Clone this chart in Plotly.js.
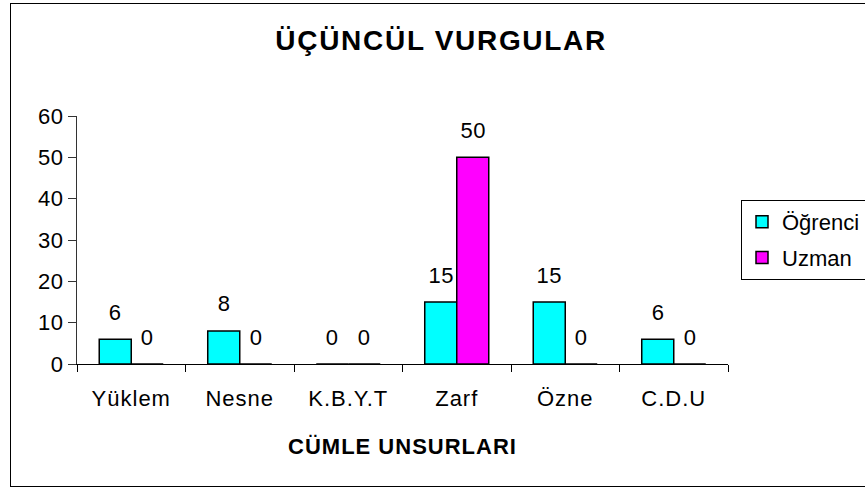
<!DOCTYPE html>
<html>
<head>
<meta charset="utf-8">
<script src="https://cdn.plot.ly/plotly-3.0.1.min.js"></script>
<style>
  html, body { margin: 0; padding: 0; background: #fff; }
  #chart { width: 865px; height: 487px; position: relative; }
  #frame { position: absolute; left: 10px; top: 3px; width: 860px; height: 482px;
           border: 1.5px solid #000; pointer-events: none; }
  #chart .gtitle { letter-spacing: 1.7px; }
  #chart .xtitle { letter-spacing: 1px; }
  #chart .xtick text { letter-spacing: 1px; }
  #chart .ytick text { letter-spacing: 0.5px; }
  #chart .annotation-text { letter-spacing: 0.5px; }
</style>
</head>
<body>
<div id="chart"></div>
<div id="frame"></div>
<script>
const categories = ["Yüklem", "Nesne", "K.B.Y.T", "Zarf", "Özne", "C.D.U"];
const ogrenci = [6, 8, 0, 15, 15, 6];
const uzman = [0, 0, 0, 50, 0, 0];
const seriesNames = ["Öğrenci", "Uzman"];
const yTicks = [0, 10, 20, 30, 40, 50, 60];

const FONT = "Liberation Sans, Arial, Helvetica, sans-serif";

const traces = [
  { type: "bar", name: seriesNames[0], x: categories, y: ogrenci, legendgroup: "a",
    marker: { color: "#00FFFF", line: { color: "#000", width: 1.5 } }, hoverinfo: "none" },
  { type: "bar", name: seriesNames[1], x: categories, y: uzman, legendgroup: "b",
    marker: { color: "#FF00FF", line: { color: "#000", width: 1.5 } }, hoverinfo: "none" }
];

const annotations = [];
[ogrenci, uzman].forEach((vals, si) => {
  vals.forEach((v, i) => {
    annotations.push({
      x: categories[i], y: v, xref: "x", yref: "y",
      text: String(v), showarrow: false,
      xshift: si === 0 ? -16 : 16, yshift: 27, yanchor: "middle",
      font: { family: FONT, size: 22, color: "#000" }
    });
  });
});

const layout = {
  width: 865, height: 487,
  margin: { l: 77, r: 137, t: 116, b: 123 },
  paper_bgcolor: "#fff", plot_bgcolor: "#fff",
  font: { family: FONT, size: 22, color: "#000" },
  title: { text: "<b>ÜÇÜNCÜL VURGULAR</b>", x: 0.51, xref: "container", xanchor: "center",
           y: 1 - 40 / 487, yref: "container", yanchor: "middle",
           font: { family: FONT, size: 28, color: "#000" } },
  barmode: "group", bargap: 0.41, bargroupgap: 0,
  showlegend: true,
  legend: { x: 741 / 865, xanchor: "left", y: 1 - 200 / 487, yanchor: "top",
            xref: "container", yref: "container",
            bgcolor: "#fff", bordercolor: "#000", borderwidth: 1, itemwidth: 30,
            font: { family: FONT, size: 22, color: "#000" },
            traceorder: "grouped", tracegroupgap: 4 },
  xaxis: { type: "category", showline: true, linecolor: "#000", linewidth: 1,
           ticks: "outside", tickson: "boundaries", ticklen: 7, tickcolor: "#000",
           ticklabelstandoff: 15, showgrid: false, zeroline: false, fixedrange: true,
           tickfont: { family: FONT, size: 22, color: "#000" },
           title: { text: "<b>CÜMLE UNSURLARI</b>", standoff: 28,
                    font: { family: FONT, size: 22, color: "#000" } } },
  yaxis: { range: [0, 60], tickvals: yTicks, showline: true, linecolor: "#333", linewidth: 1,
           ticks: "outside", ticklen: 8, tickcolor: "#333", showgrid: false, zeroline: false,
           fixedrange: true, tickfont: { family: FONT, size: 22, color: "#000" } },
  annotations: annotations
};

Plotly.newPlot("chart", traces, layout, { displayModeBar: false, staticPlot: true });
</script>
</body>
</html>
